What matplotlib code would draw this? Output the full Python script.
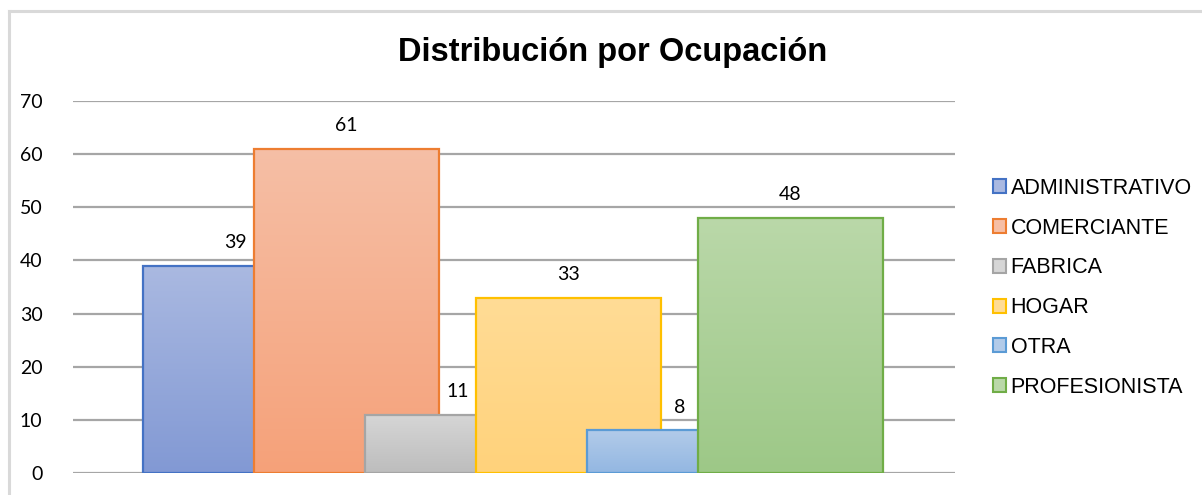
import numpy as np
import matplotlib
matplotlib.use("Agg")
import matplotlib.pyplot as plt
from matplotlib.patches import Patch, Rectangle
from matplotlib.lines import Line2D
from matplotlib.colors import LinearSegmentedColormap

# data
categories = ["ADMINISTRATIVO", "COMERCIANTE", "FABRICA", "HOGAR", "OTRA", "PROFESIONISTA"]
values = [39, 61, 11, 33, 8, 48]
yticks = [0, 10, 20, 30, 40, 50, 60, 70]

# style: (top colour, bottom colour, edge colour)
styles = [
    ("#AAB9E1", "#8299D4", "#4472C4"),
    ("#F6BFA6", "#F5A179", "#ED7D31"),
    ("#D6D6D6", "#BDBDBD", "#A5A5A5"),
    ("#FFDC96", "#FFD27B", "#FFC000"),
    ("#B2CBE9", "#93B7E2", "#5B9BD5"),
    ("#BAD8A9", "#9DC887", "#70AD47"),
]

W, H = 1202, 495
fig = plt.figure(figsize=(W / 100, H / 100), dpi=100)
ax = fig.add_axes([73 / W, 1 - 473 / H, (955 - 73) / W, (473 - 101) / H])

# outer chart border (left and top only visible)
fig.add_artist(Line2D([8.5 / W, 8.5 / W], [0, 1 - 11 / H], color="#D9D9D9", lw=2.2))
fig.add_artist(Line2D([8.5 / W, 1], [1 - 11 / H, 1 - 11 / H], color="#D9D9D9", lw=2.2))

width = 185 / 111
xs = np.arange(len(values))

for y in yticks:
    ax.axhline(y, color="#A6A6A6", lw=1.6, zorder=0)

# later bars sit on top of earlier ones (overlapping columns)
for i, (x, v, (top, bot, edge)) in enumerate(zip(xs, values, styles)):
    cmap = LinearSegmentedColormap.from_list("g", [bot, top])
    grad = np.linspace(0, 1, 256).reshape(-1, 1)
    x0 = x - width / 2
    im = ax.imshow(grad, cmap=cmap, origin="lower", aspect="auto",
                   extent=[x0, x0 + width, 0, v], zorder=2 + 2 * i)
    rect = Rectangle((x0, 0), width, v, facecolor="none", edgecolor=edge,
                     lw=1.6, zorder=3 + 2 * i)
    ax.add_patch(rect)
    im.set_clip_path(rect)

for x, v in zip(xs, values):
    ax.text(x, v + 4.4, str(v), ha="center", va="center", fontsize=14,
            family="Lato", color="#000000", zorder=50)

ax.set_xlim(-1.464, 6.482)
ax.set_ylim(0, 70)
ax.set_yticks(yticks)
ax.set_yticklabels([str(t) for t in yticks], family="Lato", fontsize=14)
ax.tick_params(axis="y", length=0, pad=22)
ax.set_xticks([])
for s in ax.spines.values():
    s.set_visible(False)

fig.text(613 / W, 1 - 53 / H, "Distribución por Ocupación", ha="center", va="center",
         fontsize=23.5, fontweight="bold", family="Liberation Sans")

handles = [Patch(facecolor=top, edgecolor=edge, lw=1.5) for top, bot, edge in styles]
fig.legend(handles, categories, loc="upper left", bbox_to_anchor=(993 / W, 1 - 178 / H),
           frameon=False, prop={"family": "Liberation Sans", "size": 15.5},
           handlelength=0.62, handleheight=0.62, handletextpad=0.2,
           labelspacing=0.87, borderpad=0, borderaxespad=0)

fig.savefig("out.png", dpi=100)
